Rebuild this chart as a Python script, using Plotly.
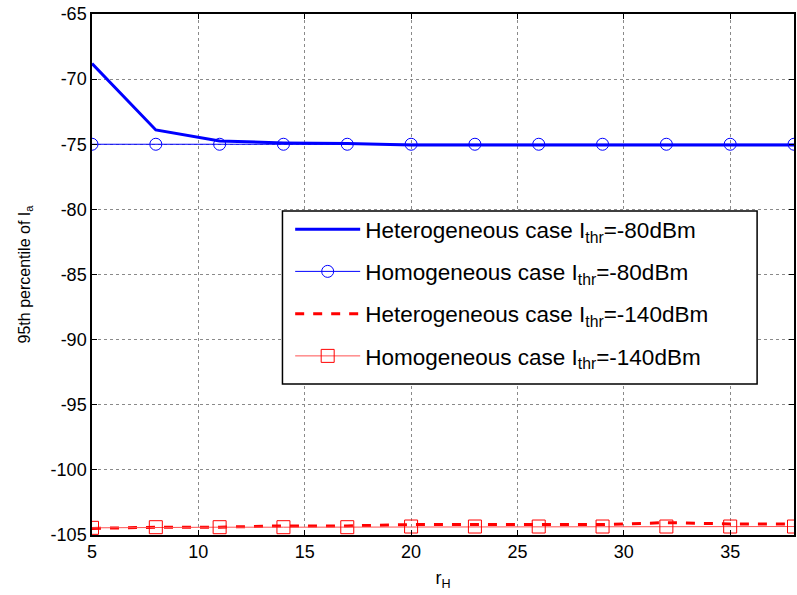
import plotly.graph_objects as go

# r_H sample points
r_h = [5, 8, 11, 14, 17, 20, 23, 26, 29, 32, 35, 38]

# 95th percentile of I_a for each scheme
het_80 = [-68.8, -73.9, -74.75, -74.9, -74.95, -75.05, -75.05, -75.05, -75.05, -75.05, -75.05, -75.05]
hom_80 = [-75.0, -75.0, -75.0, -75.0, -75.0, -75.0, -75.0, -75.0, -75.0, -75.0, -75.0, -75.0]
het_140 = [-104.5, -104.4, -104.4, -104.3, -104.3, -104.2, -104.2, -104.2, -104.2, -104.05, -104.15, -104.15]
hom_140 = [-104.45, -104.4, -104.4, -104.4, -104.4, -104.35, -104.35, -104.35, -104.35, -104.35, -104.35, -104.35]

x_ticks = [5, 10, 15, 20, 25, 30, 35]
x_tick_labels = ["5", "10", "15", "20", "25", "30", "35"]
y_ticks = [-105, -100, -95, -90, -85, -80, -75, -70, -65]
y_tick_labels = ["-105", "-100", "-95", "-90", "-85", "-80", "-75", "-70", "-65"]

FONT = "Liberation Sans, Arial, sans-serif"

fig = go.Figure()
fig.add_trace(go.Scatter(
    x=r_h, y=het_80, mode="lines", name="Heterogeneous case I<sub>thr</sub>=-80dBm",
    line=dict(color="#0000FF", width=3), legendgroup="a"))
fig.add_trace(go.Scatter(
    x=r_h, y=hom_80, mode="lines+markers", name="Homogeneous case I<sub>thr</sub>=-80dBm",
    line=dict(color="#0000FF", width=1),
    marker=dict(symbol="circle-open", size=12, color="#0000FF", line=dict(width=1)),
    legendgroup="b"))
fig.add_trace(go.Scatter(
    x=r_h, y=het_140, mode="lines", name="Heterogeneous case I<sub>thr</sub>=-140dBm",
    line=dict(color="#FF0000", width=3, dash="dash"), legendgroup="c"))
fig.add_trace(go.Scatter(
    x=r_h, y=hom_140, mode="lines+markers", name="Homogeneous case I<sub>thr</sub>=-140dBm",
    line=dict(color="#FF5050", width=1),
    marker=dict(symbol="square-open", size=13, color="#FF0000", line=dict(width=1)),
    legendgroup="d"))

# Legend frame
fig.add_shape(type="rect", xref="paper", yref="paper",
              x0=(283 - 92) / 704, x1=(759 - 92) / 704,
              y0=(535 - 384) / 521, y1=(535 - 211) / 521,
              line=dict(color="black", width=1.5), fillcolor="white", layer="above")

axis_common = dict(
    showline=True, linecolor="black", linewidth=1.5, mirror="ticks",
    ticks="inside", ticklen=5, tickcolor="black",
    showgrid=True, gridcolor="#8a8a8a", gridwidth=1, griddash="dot",
    zeroline=False, tickfont=dict(family=FONT, size=18, color="black"),
)

fig.update_xaxes(range=[5, 38], tickvals=x_ticks, ticktext=x_tick_labels,
                 title=dict(text="r<sub>H</sub>", font=dict(family=FONT, size=18, color="black"), standoff=10),
                 **axis_common)
fig.update_yaxes(range=[-105, -65], tickvals=y_ticks, ticktext=y_tick_labels,
                 title=dict(text="95th percentile of I<sub>a</sub>", font=dict(family=FONT, size=16, color="black"), standoff=16),
                 **axis_common)

fig.update_layout(
    width=797, height=595,
    margin=dict(l=92, r=1, t=14, b=60),
    plot_bgcolor="white", paper_bgcolor="white",
    font=dict(family=FONT, color="black"),
    legend=dict(x=(283 - 92) / 704 + 0.011, y=(535 - 208) / 521, xanchor="left", yanchor="top",
                bgcolor="rgba(0,0,0,0)", borderwidth=0,
                font=dict(family=FONT, size=22.5, color="black"),
                itemwidth=65, tracegroupgap=10),
)

fig.write_html("out.html")
